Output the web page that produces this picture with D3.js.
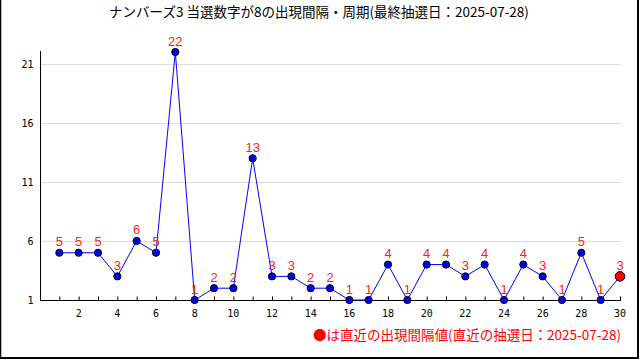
<!DOCTYPE html>
<html><head><meta charset="utf-8">
<script src="https://cdn.jsdelivr.net/npm/d3@7"></script>
<style>html,body{margin:0;padding:0;background:#fff}svg{display:block}</style>
</head><body>
<script>
const titleText = "ナンバーズ3 当選数字が8の出現間隔・周期(最終抽選日：2025-07-28)";
const legendText = "●は直近の出現間隔値(直近の抽選日：2025-07-28)";
const indices = d3.range(1, 31);
const intervals = [5,5,5,3,6,5,22,1,2,2,13,3,3,2,2,1,1,4,1,4,4,3,4,1,4,3,1,5,1,3];
const yTicks = [1,6,11,16,21];
const xTickLabels = [2,4,6,8,10,12,14,16,18,20,22,24,26,28,30];

const W = 640, H = 360;
const svg = d3.select("body").append("svg").attr("width", W).attr("height", H);

// frame
svg.append("line").attr("x1",0.5).attr("x2",0.5).attr("y1",0).attr("y2",359).attr("stroke","#000").attr("stroke-width",1.5);
svg.append("line").attr("x1",638).attr("x2",638).attr("y1",0).attr("y2",359).attr("stroke","#000").attr("stroke-width",2);
svg.append("line").attr("x1",0).attr("x2",639).attr("y1",358).attr("y2",358).attr("stroke","#000").attr("stroke-width",2);

const x = d3.scaleLinear().domain([0,30]).range([40,620]);
const y = d3.scaleLinear().domain([1,22]).range([300,52]);

// title
svg.append("text").attr("x",319).attr("y",17).attr("text-anchor","middle")
  .attr("font-family","'Noto Sans CJK JP'").attr("font-size",13.5).attr("fill","#000").text(titleText);

// gridlines
svg.append("g").selectAll("line").data(yTicks.filter(d=>d>1)).join("line")
  .attr("x1",41).attr("x2",621).attr("y1",d=>Math.round(y(d))+0.5).attr("y2",d=>Math.round(y(d))+0.5)
  .attr("stroke","#dcdcdc").attr("stroke-width",1);

// y axis
const yAxis = d3.axisLeft(y).tickValues(yTicks).tickSize(0).tickPadding(7).tickFormat(d3.format("d"));
const gy = svg.append("g").attr("transform","translate(40.5,0)").call(yAxis);
gy.select(".domain").attr("stroke","#000").attr("d","M0,51V300");
gy.selectAll("text").attr("font-family","'DejaVu Sans Mono'").attr("font-size",10).attr("fill","#000");

// x axis
const xAxis = d3.axisTop(x).tickValues(indices).tickSize(4).tickFormat("");
const gx = svg.append("g").attr("transform","translate(0,300.5)").call(xAxis);
gx.select(".domain").attr("d","M40,0H621").attr("stroke","#000");
gx.selectAll(".tick line").attr("stroke","#000");
svg.append("g").selectAll("text").data(xTickLabels).join("text")
  .attr("x",d=>x(d)).attr("y",317).attr("text-anchor","middle")
  .attr("font-family","'DejaVu Sans Mono'").attr("font-size",10).attr("fill","#000").text(d=>d);

// line
const line = d3.line().x((d,i)=>x(indices[i])).y(d=>y(d));
svg.append("path").datum(intervals).attr("d",line).attr("fill","none").attr("stroke","#0000ff").attr("stroke-width",1);

// points
svg.append("g").selectAll("circle").data(intervals).join("circle")
  .attr("cx",(d,i)=>x(indices[i])).attr("cy",d=>y(d))
  .attr("r",(d,i)=>i===intervals.length-1?4.8:3.6)
  .attr("fill",(d,i)=>i===intervals.length-1?"#ff0000":"#0000ee")
  .attr("stroke","#000").attr("stroke-width",1);

// labels
svg.append("g").selectAll("text").data(intervals).join("text")
  .attr("x",(d,i)=>x(indices[i])).attr("y",d=>y(d)-6.5).attr("text-anchor","middle")
  .attr("font-family","'Liberation Sans'").attr("font-size",13).attr("fill","#ff2020").text(d=>d);

// legend
svg.append("text").attr("x",621).attr("y",340).attr("text-anchor","end")
  .attr("font-family","'Noto Sans CJK JP'").attr("font-size",13.5).attr("fill","#ff0000").text(legendText);
</script>
</body></html>
